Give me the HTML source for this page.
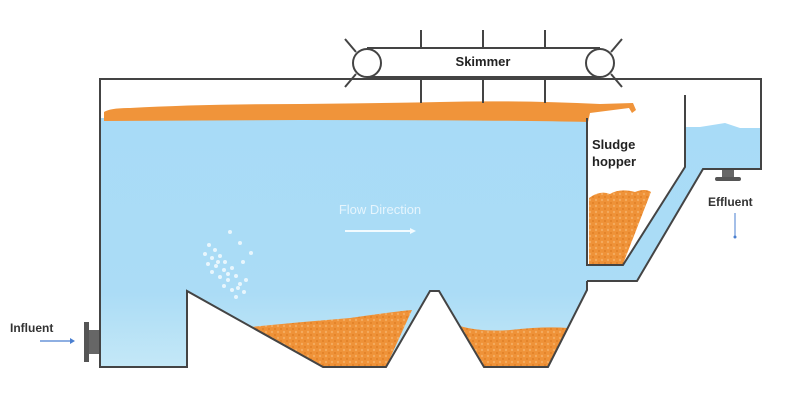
<!DOCTYPE html>
<html><head><meta charset="utf-8"><style>
html,body{margin:0;padding:0;background:#fff;}
svg{display:block;}
text{font-family:"Liberation Sans",sans-serif;}
</style></head><body>
<svg width="800" height="404" viewBox="0 0 800 404" xmlns="http://www.w3.org/2000/svg">
<defs>
<linearGradient id="w" x1="0" y1="0" x2="0" y2="1">
<stop offset="0" stop-color="#a8dbf7"/><stop offset="0.7" stop-color="#abdcf6"/><stop offset="1" stop-color="#c4e8f7"/>
</linearGradient>
<pattern id="o" width="6" height="6" patternUnits="userSpaceOnUse">
<rect width="6" height="6" fill="#ef9238"/><circle cx="2" cy="2" r="1.2" fill="#f4ab5e"/><circle cx="5" cy="5" r="1" fill="#e07f25"/>
</pattern>
</defs>
<path d="M100 118 L587 118 L587 281 L637 281 L703 168 L761 168 L761 128 L740 128 L725 123 L700 127 L685 127 L685 167 L623 265 L587 265 L587 290 L548 367 L484 367 L439 291 L430 291 L386 367 L323 367 L187 291 L187 367 L100 367 Z" fill="url(#w)"/>
<path d="M250 327 Q300 322 350 318 Q390 312 412 310 L386 367 L323 367 Z" fill="url(#o)"/>
<path d="M460 326 Q480 332 510 330 Q545 326 568 328 L548 367 L484 367 Z" fill="url(#o)"/>
<path d="M589 198 Q600 190 610 194 Q620 188 635 192 Q645 188 651 192 L623 264 L589 264 Z" fill="url(#o)"/>
<path d="M104 118 L104 112 Q110 108 130 108 Q200 104 300 104 Q400 103 440 102 Q520 100 600 104 L633 103 L636 110 L632 113 L629 108 L590 113 L588 122 Q500 120 300 120 L104 121 Z" fill="#f0943a"/>
<g fill="none" stroke="#444" stroke-width="2">
<path d="M100 368 L100 79 L761 79 L761 169 L703 169 L637 281 L587 281"/>
<path d="M587 118 L587 265 L623 265 L685 167 L685 95"/>
<path d="M587 281 L587 290 L548 367 L484 367 L439 291 L430 291 L386 367 L323 367 L187 291 L187 367 L100 367"/>
<path d="M367 48 L600 48 M367 77 L600 77"/>
<circle cx="367" cy="63" r="14" fill="#fff"/>
<circle cx="600" cy="63" r="14" fill="#fff"/>
<path d="M345 39 L356 52 M345 87 L356 74 M622 39 L611 52 M622 87 L611 74"/>
<path d="M421 30 L421 48 M421 77 L421 103 M483 30 L483 48 M483 77 L483 103 M545 30 L545 48 M545 77 L545 103"/>
</g>
<rect x="387" y="49" width="196" height="27" fill="#fff"/>
<text x="483" y="66" font-size="13" text-anchor="middle" fill="#222" font-weight="600">Skimmer</text>
<rect x="88" y="330" width="11" height="24" fill="#666"/>
<rect x="84" y="322" width="5" height="40" fill="#555"/>
<rect x="722" y="170" width="12" height="7" fill="#666"/>
<rect x="715" y="177" width="26" height="4" rx="2" fill="#555"/>
<text x="592" y="149" font-size="13" fill="#222" font-weight="600">Sludge</text>
<text x="592" y="166" font-size="13" fill="#222" font-weight="600">hopper</text>
<text x="708" y="206" font-size="12" fill="#333" font-weight="bold">Effluent</text>
<line x1="735" y1="213" x2="735" y2="237" stroke="#4a7fd0" stroke-width="1"/>
<circle cx="735" cy="237" r="1.5" fill="#4a7fd0"/>
<text x="10" y="332" font-size="12" fill="#333" font-weight="bold">Influent</text>
<line x1="40" y1="341" x2="70" y2="341" stroke="#4a7fd0" stroke-width="1.2"/>
<path d="M70 338 L75 341 L70 344 Z" fill="#4a7fd0"/>
<text x="380" y="214" font-size="13" text-anchor="middle" fill="#e6f5fd">Flow Direction</text>
<line x1="345" y1="231" x2="412" y2="231" stroke="#f2fbff" stroke-width="2"/>
<path d="M410 228 L416 231 L410 234 Z" fill="#f2fbff"/>
<g fill="#e8f6fd">
<circle cx="230" cy="232" r="2"/><circle cx="240" cy="243" r="2"/><circle cx="251" cy="253" r="2"/><circle cx="243" cy="262" r="2"/>
<circle cx="209" cy="245" r="2"/><circle cx="215" cy="250" r="2"/><circle cx="205" cy="254" r="2"/><circle cx="212" cy="258" r="2"/><circle cx="220" cy="256" r="2"/><circle cx="225" cy="262" r="2"/>
<circle cx="208" cy="264" r="2"/><circle cx="216" cy="266" r="2"/><circle cx="224" cy="270" r="2"/><circle cx="232" cy="268" r="2"/><circle cx="212" cy="272" r="2"/><circle cx="220" cy="277" r="2"/><circle cx="228" cy="280" r="2"/><circle cx="236" cy="276" r="2"/><circle cx="240" cy="284" r="2"/><circle cx="224" cy="286" r="2"/><circle cx="232" cy="290" r="2"/><circle cx="244" cy="292" r="2"/><circle cx="236" cy="297" r="2"/><circle cx="218" cy="262" r="2"/><circle cx="228" cy="274" r="2"/><circle cx="238" cy="288" r="2"/><circle cx="246" cy="280" r="2"/>
</g>
</svg>
</body></html>
